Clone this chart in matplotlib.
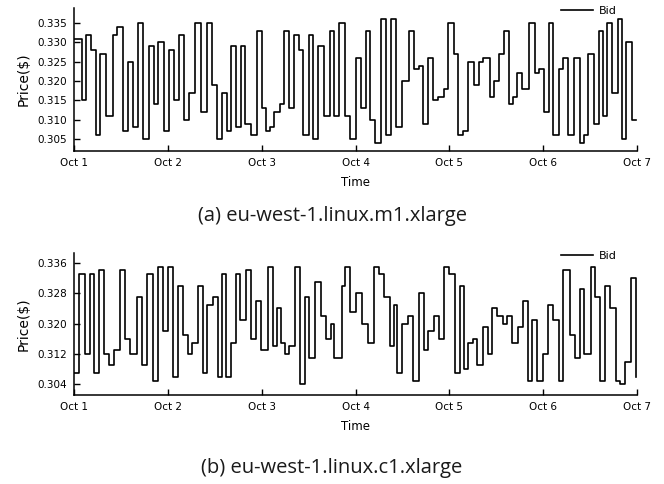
import numpy as np
import matplotlib
matplotlib.use("Agg")
import matplotlib.pyplot as plt

plt.rcParams["font.family"] = ["DejaVu Sans"]

# hours since Oct 1 00:00 where the bid price changes, and the new price
m1_hours = [0, 2.0, 3.2, 4.3, 5.6, 6.7, 8.2, 9.9, 10.9, 12.5, 13.9, 15.1, 16.3, 17.6,
            19.1, 20.4, 21.6, 23.0, 24.3, 25.5, 26.9, 28.1, 29.5, 31.0, 32.4, 34.0,
            35.4, 36.7, 37.9, 39.1, 40.2, 41.5, 42.6, 43.8, 45.3, 46.9, 48.0, 49.0,
            50.2, 51.2, 52.6, 53.8, 55.1, 56.3, 57.5, 58.5, 60.0, 61.1, 62.5, 63.9,
            65.4, 66.5, 67.7, 69.4, 70.5, 72.0, 73.4, 74.6, 75.8, 76.9, 78.4, 79.9,
            81.2, 82.4, 83.8, 85.6, 86.9, 88.2, 89.3, 90.6, 91.8, 93.0, 94.6, 95.7,
            97.1, 98.2, 99.4, 100.8, 102.2, 103.5, 104.6, 106.5, 107.4, 108.6, 109.9,
            111.2, 112.3, 113.3, 114.6, 116.3, 117.8, 118.9, 120.1, 121.4, 122.5,
            124.0, 125.1, 126.3, 128.0, 129.3, 130.5, 131.5, 132.9, 134.2, 135.3,
            136.3, 137.6, 139.1, 140.2, 141.3, 142.7, 143.8]
m1_price = [0.331, 0.315, 0.332, 0.328, 0.306, 0.327, 0.311, 0.332, 0.334, 0.307, 0.325,
            0.308, 0.335, 0.305, 0.329, 0.314, 0.330, 0.307, 0.328, 0.315, 0.332, 0.310,
            0.317, 0.335, 0.312, 0.335, 0.319, 0.305, 0.317, 0.307, 0.329, 0.308, 0.329,
            0.309, 0.306, 0.333, 0.313, 0.307, 0.308, 0.312, 0.314, 0.333, 0.313, 0.332,
            0.328, 0.306, 0.332, 0.305, 0.329, 0.311, 0.333, 0.311, 0.335, 0.311, 0.305,
            0.326, 0.313, 0.333, 0.310, 0.304, 0.336, 0.306, 0.336, 0.308, 0.320, 0.333,
            0.323, 0.324, 0.309, 0.326, 0.315, 0.316, 0.318, 0.335, 0.327, 0.306, 0.307,
            0.325, 0.319, 0.325, 0.326, 0.316, 0.320, 0.327, 0.333, 0.314, 0.316, 0.322,
            0.318, 0.335, 0.322, 0.323, 0.312, 0.335, 0.306, 0.323, 0.326, 0.306, 0.326,
            0.304, 0.306, 0.327, 0.309, 0.333, 0.311, 0.335, 0.317, 0.336, 0.305, 0.330,
            0.310, 0.310]

c1_hours = [0, 1.3, 2.8, 4.1, 5.2, 6.5, 7.8, 8.9, 10.3, 11.8, 13.1, 14.4, 16.1, 17.5,
            18.7, 20.3, 21.5, 22.8, 24.1, 25.3, 26.7, 27.8, 29.1, 30.3, 31.6, 32.9,
            34.0, 35.5, 36.8, 37.9, 39.0, 40.2, 41.4, 42.5, 44.0, 45.2, 46.5, 47.8,
            49.6, 50.8, 52.0, 53.0, 53.9, 54.9, 56.4, 57.9, 59.0, 60.2, 61.6, 63.3,
            64.5, 65.7, 66.5, 68.6, 69.4, 70.6, 72.0, 73.7, 75.2, 76.7, 78.0, 79.2,
            80.7, 81.8, 82.7, 83.9, 85.4, 86.7, 88.2, 89.5, 90.5, 92.2, 93.3, 94.6,
            96.0, 97.4, 98.7, 99.7, 100.8, 102.0, 103.1, 104.6, 105.8, 106.9, 108.2,
            109.7, 110.8, 112.0, 113.5, 114.9, 116.0, 117.2, 118.4, 119.9, 121.2,
            122.5, 124.0, 125.1, 126.8, 128.2, 129.3, 130.5, 132.1, 133.3, 134.5,
            135.9, 137.2, 138.5, 139.7, 141.0, 142.5, 143.8]
c1_price = [0.307, 0.333, 0.312, 0.333, 0.307, 0.334, 0.312, 0.309, 0.313, 0.334, 0.316,
            0.312, 0.327, 0.309, 0.333, 0.305, 0.335, 0.318, 0.335, 0.306, 0.330, 0.317,
            0.312, 0.315, 0.330, 0.307, 0.325, 0.327, 0.306, 0.333, 0.306, 0.315, 0.333,
            0.321, 0.334, 0.316, 0.326, 0.313, 0.335, 0.314, 0.324, 0.315, 0.312, 0.314,
            0.335, 0.304, 0.327, 0.311, 0.331, 0.322, 0.316, 0.320, 0.311, 0.330, 0.335,
            0.323, 0.328, 0.320, 0.315, 0.335, 0.333, 0.327, 0.314, 0.325, 0.307, 0.320,
            0.322, 0.305, 0.328, 0.313, 0.318, 0.322, 0.316, 0.335, 0.333, 0.307, 0.330,
            0.308, 0.315, 0.316, 0.309, 0.319, 0.312, 0.324, 0.322, 0.320, 0.322, 0.315,
            0.319, 0.326, 0.305, 0.321, 0.305, 0.312, 0.325, 0.321, 0.305, 0.334, 0.317,
            0.311, 0.329, 0.312, 0.335, 0.327, 0.305, 0.330, 0.324, 0.305, 0.304, 0.310,
            0.332, 0.306]

day_ticks = [0, 24, 48, 72, 96, 120, 144]
day_labels = ["Oct 1", "Oct 2", "Oct 3", "Oct 4", "Oct 5", "Oct 6", "Oct 7"]

panels = [
    (m1_hours, m1_price, [0.305, 0.310, 0.315, 0.320, 0.325, 0.330, 0.335],
     (0.3019, 0.3389), "(a) eu-west-1.linux.m1.xlarge"),
    (c1_hours, c1_price, [0.304, 0.312, 0.320, 0.328, 0.336],
     (0.3012, 0.3386), "(b) eu-west-1.linux.c1.xlarge"),
]

fig = plt.figure(figsize=(6.64, 4.84), dpi=100)
ax_pos = [[0.1114, 0.688, 0.848, 0.2955], [0.1114, 0.1839, 0.848, 0.2934]]
cap_y = [0.553, 0.033]

for i, (hours, price, yt, ylim, caption) in enumerate(panels):
    ax = fig.add_axes(ax_pos[i])
    ax.step(hours, price, where="post", color="black", lw=1.2, label="Bid")
    ax.set_xlim(0, 144)
    ax.set_ylim(*ylim)
    ax.set_xticks(day_ticks)
    ax.set_xticklabels(day_labels)
    ax.set_yticks(yt)
    ax.set_yticklabels([f"{v:.3f}" for v in yt])
    for s in ["top", "right"]:
        ax.spines[s].set_visible(False)
    for s in ["left", "bottom"]:
        ax.spines[s].set_linewidth(1.1)
    ax.tick_params(direction="in", length=4, width=1.0, pad=5)
    ax.tick_params(axis="x", labelsize=7.5)
    ax.tick_params(axis="y", labelsize=7.5)
    ax.set_xlabel("Time", fontsize=8.5, labelpad=6)
    ax.set_ylabel("Price($)", fontsize=10, labelpad=5)
    ax.legend(loc="center right", bbox_to_anchor=(0.9645, 0.98), frameon=False,
              fontsize=8, handlelength=2.9, handletextpad=0.55,
              borderpad=0, borderaxespad=0)
    fig.text(0.5, cap_y[i], caption, ha="center", va="center", fontsize=14.5,
             family="Open Sans", color="#1a1a1a")

fig.savefig("out.png", dpi=100)
